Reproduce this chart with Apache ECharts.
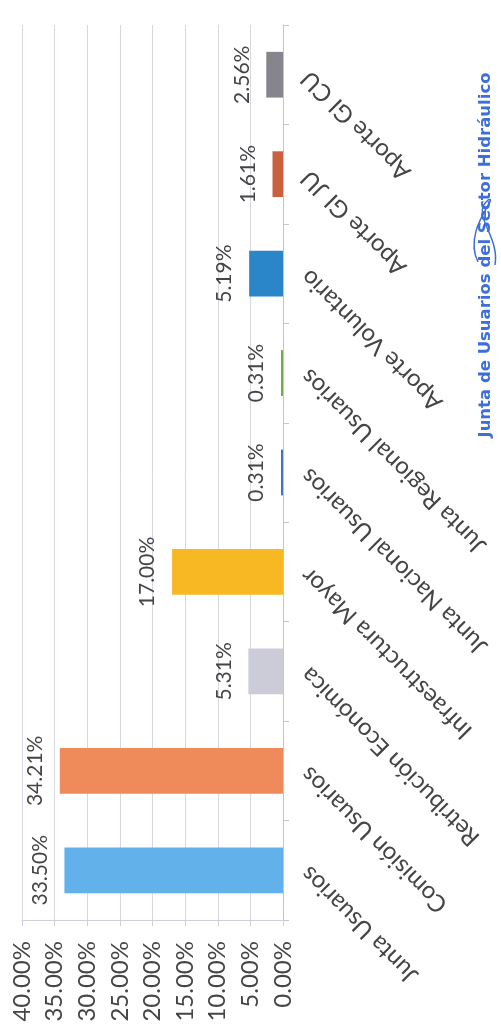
<!DOCTYPE html>
<html><head><meta charset="utf-8">
<script src="https://cdn.jsdelivr.net/npm/echarts@6/dist/echarts.min.js"></script>
<style>html,body{margin:0;padding:0;background:#fff}#c{width:501px;height:1028px}</style>
</head><body><div id="c"></div>
<script>
const categories = ['Junta Usuarios','Comisión Usuarios','Retribución Económica','Infraestructura Mayor','Junta Nacional Usuarios','Junta Regional Usuarios','Aporte Voluntario','Aporte GI JU','Aporte GI CU'];
const shares = [33.50, 34.21, 5.31, 17.00, 0.31, 0.31, 5.19, 1.61, 2.56];
const barColors = ['#62b1ea','#ef8a5b','#cbccd8','#f7b824','#4472c4','#70ad47','#2a86c8','#c9603f','#86848c'];
const watermark = 'Junta de Usuarios del Sector Hidráulico';

const chart = echarts.init(document.getElementById('c'));
const txt = '#454545';
chart.setOption({
  backgroundColor: '#ffffff',
  animation: false,
  grid: {left: 22, right: 218, top: 25, bottom: 108, containLabel: false, outerBoundsMode: 'none'},
  xAxis: {
    type: 'value', min: 0, max: 40, interval: 5, inverse: true, position: 'bottom',
    axisLine: {show: true, lineStyle: {color: '#cfd0da', width: 1}},
    axisTick: {show: true, length: 6, lineStyle: {color: '#cfd0da'}},
    splitLine: {show: true, lineStyle: {color: '#d6d7e0', width: 1}},
    axisLabel: {rotate: 90, align: 'right', verticalAlign: 'middle', margin: 21,
      fontFamily: 'Lato', fontSize: 24, color: txt,
      formatter: v => v.toFixed(2) + '%'}
  },
  yAxis: {
    type: 'category', data: categories, position: 'right',
    axisLine: {show: true, lineStyle: {color: '#c4c4cc', width: 1}},
    axisTick: {show: true, length: 6, alignWithLabel: false, lineStyle: {color: '#c4c4cc'}},
    splitLine: {show: false},
    axisLabel: {interval: 0, rotate: 135, align: 'right', verticalAlign: 'middle', margin: 22,
      fontFamily: 'Lato', fontSize: 24, color: txt}
  },
  series: [{
    type: 'bar', data: shares, barWidth: '46%',
    itemStyle: {color: p => barColors[p.dataIndex]},
    label: {show: true, position: 'left', distance: 14, rotate: 90, align: 'center', verticalAlign: 'bottom',
      fontFamily: 'Lato', fontSize: 21, color: txt,
      formatter: p => p.value.toFixed(2) + '%'}
  }],
  graphic: [
    {type: 'text', x: 486, y: 255, rotation: Math.PI / 2,
     style: {text: watermark, font: 'bold 16.5px "DejaVu Sans"', fill: '#3d6fd8', align: 'center', verticalAlign: 'middle'}},
    {type: 'bezierCurve', shape: {x1: 478, y1: 262, x2: 488, y2: 200, cpx1: 462, cpy1: 230, cpx2: 500, cpy2: 195},
     style: {stroke: '#3d6fd8', fill: null, lineWidth: 1.5}},
    {type: 'bezierCurve', shape: {x1: 488, y1: 200, x2: 495, y2: 265, cpx1: 470, cpy1: 215, cpx2: 500, cpy2: 235},
     style: {stroke: '#3d6fd8', fill: null, lineWidth: 1.5}}
  ]
});
</script></body></html>
